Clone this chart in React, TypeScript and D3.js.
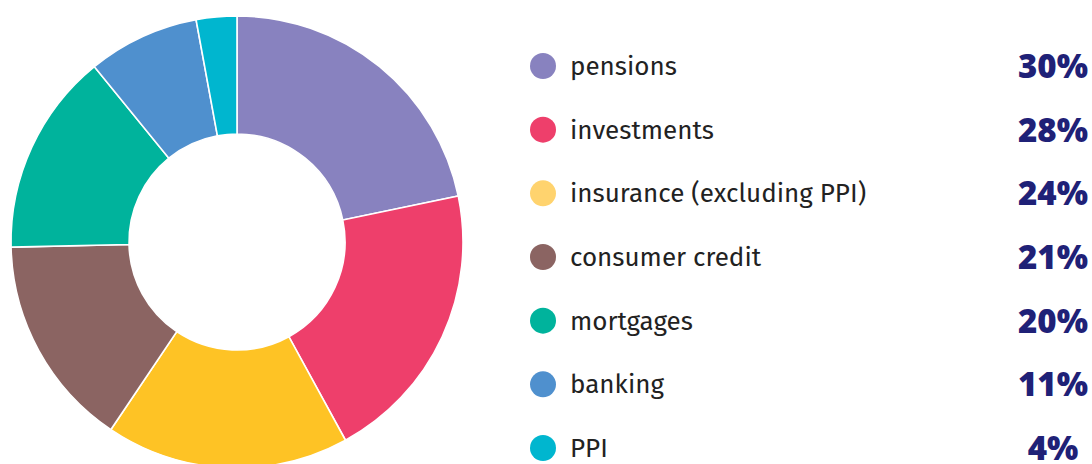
import * as d3 from "d3";

const CATEGORIES = ["pensions", "investments", "insurance (excluding PPI)", "consumer credit", "mortgages", "banking", "PPI"];
const VALUES = [30, 28, 24, 21, 20, 11, 4];
const SLICE_COLORS = ["#8882BF", "#EE3F6B", "#FEC325", "#8B6462", "#00B39C", "#4F90CE", "#00B6CF"];
const DOT_COLORS = ["#8882BF", "#EE3F6B", "#FFD36E", "#8B6462", "#00B39C", "#4F90CE", "#00B6CF"];

export default function App() {
  const width = 1092;
  const height = 464;
  const cx = 237;
  const cy = 242;
  const outerR = 226;
  const innerR = 108;

  const pie = d3.pie<number>().sort(null).value((d) => d);
  const arcs = pie(VALUES);
  const arc = d3.arc<d3.PieArcDatum<number>>().innerRadius(innerR).outerRadius(outerR);

  // legend rows
  const rowY = d3.scaleLinear().domain([0, CATEGORIES.length - 1]).range([66, 448]);

  return (
    <svg
      width={width}
      height={height}
      style={{ position: "absolute", left: 0, top: 0 }}
    >
      <rect width={width} height={height} fill="#fff" />
      <g transform={`translate(${cx},${cy})`}>
        {arcs.map((a, i) => (
          <path key={i} d={arc(a) || ""} fill={SLICE_COLORS[i]} stroke="#fff" strokeWidth={1.6} />
        ))}
      </g>

      {CATEGORIES.map((c, i) => {
        const y = rowY(i);
        return (
          <g key={c}>
            <circle cx={543} cy={y} r={13} fill={DOT_COLORS[i]} />
            <text
              x={570}
              y={y}
              dy="0.35em"
              fontFamily="'Fira Sans', 'Open Sans', sans-serif"
              fontSize={26}
              fill="#222"
            >
              {c}
            </text>
            <text
              x={1053}
              y={y}
              dy="0.36em"
              textAnchor="middle"
              fontFamily="'Open Sans', sans-serif"
              fontWeight={800}
              fontSize={33}
              fill="#1F2177"
            >
              {VALUES[i]}%
            </text>
          </g>
        );
      })}
    </svg>
  );
}
